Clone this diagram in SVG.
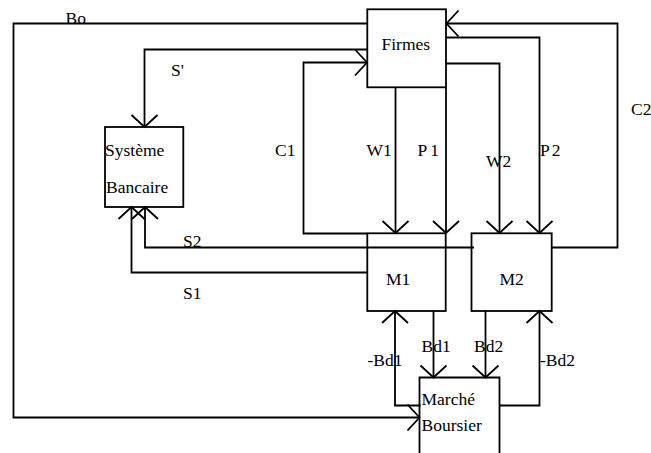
<svg xmlns="http://www.w3.org/2000/svg" width="651" height="453" viewBox="0 0 651 453">
<style>
.box{fill:none;stroke:#000;stroke-width:1.8}
.c{fill:none;stroke:#000;stroke-width:1.8;marker-end:url(#arr)}
.t{font-size:17.5px;fill:#000}
</style>
<defs>
<marker id="arr" markerUnits="userSpaceOnUse" refX="0" refY="0" markerWidth="30" markerHeight="30" orient="auto" overflow="visible">
<path d="M-12,-13 L0,0 L-12,13" fill="none" stroke="#000" stroke-width="1.8"/>
</marker>
</defs>
<rect width="651" height="453" fill="#fff"/>
<g id="connectors">
<path class="c" d="M367,23.5 H13.5 V417.5 H419.5"/>
<path class="c" d="M367,49.5 H144.5 V127"/>
<path class="c" d="M367,233.5 H303.5 V62.5 H367"/>
<path class="c" d="M552,247.5 H617.5 V23.5 H446.5"/>
<path class="c" d="M446,37.5 H539.5 V233"/>
<path class="c" d="M446,63.5 H499.5 V233"/>
<path class="c" d="M395.5,87.5 V233"/>
<path class="c" d="M446,87.5 V233"/>
<path class="c" d="M474,247.5 H145 V207"/>
<path class="c" d="M367,272.5 H131.5 V207"/>
<path class="c" d="M420.5,405.5 H395 V311"/>
<path class="c" d="M433.5,311 V377.5"/>
<path class="c" d="M485.5,311 V377.5"/>
<path class="c" d="M499.5,405.5 H539.5 V311"/>
</g>
<g font-family="'Liberation Serif', 'Times New Roman', Tinos, serif">
<g id="firmes">
<rect class="box" x="367.3" y="9.3" width="78.7" height="78"/>
<text class="t" x="381.5" y="50">Firmes</text>
</g>
<g id="systeme">
<rect class="box" x="105" y="127" width="78.3" height="80"/>
<text class="t" x="105" y="156">Système</text>
<text class="t" x="106" y="193">Bancaire</text>
</g>
<g id="m1">
<rect class="box" x="367.3" y="233.3" width="78.4" height="77.7"/>
<text class="t" x="386" y="285">M1</text>
</g>
<g id="m2">
<rect class="box" x="471.5" y="233.3" width="80.2" height="77.7"/>
<text class="t" x="499.5" y="285">M2</text>
</g>
<g id="marche">
<path d="M419.5,460 V377.5 H499.5 V460" fill="none" stroke="#000" stroke-width="1.8"/>
<text class="t" x="421.5" y="405">Marché</text>
<text class="t" x="421.5" y="431">Boursier</text>
</g>
<g id="labels">
<text class="t" x="65.5" y="24">Bo</text>
<text class="t" x="171" y="76">S'</text>
<text class="t" x="275" y="156">C1</text>
<text class="t" x="366.5" y="156">W1</text>
<text class="t" x="417.5" y="156" letter-spacing="3">P1</text>
<text class="t" x="486" y="167">W2</text>
<text class="t" x="540" y="156" letter-spacing="2">P2</text>
<text class="t" x="631" y="115">C2</text>
<text class="t" x="183" y="247">S2</text>
<text class="t" x="183" y="299">S1</text>
<text class="t" x="367.5" y="366">-Bd1</text>
<text class="t" x="421.5" y="352">Bd1</text>
<text class="t" x="474" y="352">Bd2</text>
<text class="t" x="540" y="366">-Bd2</text>
</g>
</g>
</svg>
